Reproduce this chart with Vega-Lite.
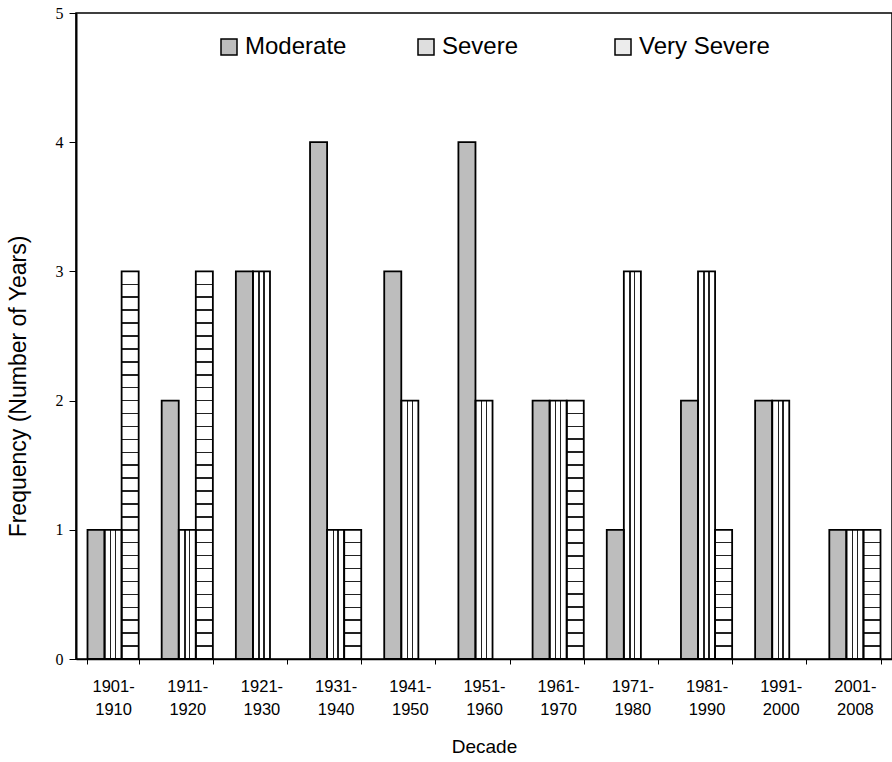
{
  "$schema": "https://vega.github.io/schema/vega-lite/v6.json",
  "width": 816,
  "height": 646,
  "autosize": "none",
  "padding": {"left": 76, "top": 13, "right": 0, "bottom": 103},
  "background": "white",
  "config": {
    "view": {"stroke": "black", "strokeWidth": 1.5},
    "axis": {"domainColor": "black", "tickColor": "black", "labelColor": "black", "titleColor": "black", "grid": false, "titleFontWeight": "normal"}
  },
  "data": {
    "values": [
      {"Decade": "1901-1910", "Category": "Moderate", "Frequency": 1},
      {"Decade": "1901-1910", "Category": "Severe", "Frequency": 1},
      {"Decade": "1901-1910", "Category": "Very Severe", "Frequency": 3},
      {"Decade": "1911-1920", "Category": "Moderate", "Frequency": 2},
      {"Decade": "1911-1920", "Category": "Severe", "Frequency": 1},
      {"Decade": "1911-1920", "Category": "Very Severe", "Frequency": 3},
      {"Decade": "1921-1930", "Category": "Moderate", "Frequency": 3},
      {"Decade": "1921-1930", "Category": "Severe", "Frequency": 3},
      {"Decade": "1921-1930", "Category": "Very Severe", "Frequency": 0},
      {"Decade": "1931-1940", "Category": "Moderate", "Frequency": 4},
      {"Decade": "1931-1940", "Category": "Severe", "Frequency": 1},
      {"Decade": "1931-1940", "Category": "Very Severe", "Frequency": 1},
      {"Decade": "1941-1950", "Category": "Moderate", "Frequency": 3},
      {"Decade": "1941-1950", "Category": "Severe", "Frequency": 2},
      {"Decade": "1941-1950", "Category": "Very Severe", "Frequency": 0},
      {"Decade": "1951-1960", "Category": "Moderate", "Frequency": 4},
      {"Decade": "1951-1960", "Category": "Severe", "Frequency": 2},
      {"Decade": "1951-1960", "Category": "Very Severe", "Frequency": 0},
      {"Decade": "1961-1970", "Category": "Moderate", "Frequency": 2},
      {"Decade": "1961-1970", "Category": "Severe", "Frequency": 2},
      {"Decade": "1961-1970", "Category": "Very Severe", "Frequency": 2},
      {"Decade": "1971-1980", "Category": "Moderate", "Frequency": 1},
      {"Decade": "1971-1980", "Category": "Severe", "Frequency": 3},
      {"Decade": "1971-1980", "Category": "Very Severe", "Frequency": 0},
      {"Decade": "1981-1990", "Category": "Moderate", "Frequency": 2},
      {"Decade": "1981-1990", "Category": "Severe", "Frequency": 3},
      {"Decade": "1981-1990", "Category": "Very Severe", "Frequency": 1},
      {"Decade": "1991-2000", "Category": "Moderate", "Frequency": 2},
      {"Decade": "1991-2000", "Category": "Severe", "Frequency": 2},
      {"Decade": "1991-2000", "Category": "Very Severe", "Frequency": 0},
      {"Decade": "2001-2008", "Category": "Moderate", "Frequency": 1},
      {"Decade": "2001-2008", "Category": "Severe", "Frequency": 1},
      {"Decade": "2001-2008", "Category": "Very Severe", "Frequency": 1}
    ]
  },
  "encoding": {
    "x": {
      "field": "Decade", "type": "nominal", "sort": null,
      "scale": {"paddingInner": 0.31, "paddingOuter": 0.155},
      "axis": {
        "title": "Decade", "labelAngle": 0,
        "labelExpr": "[slice(datum.label, 0, 5), slice(datum.label, 5)]",
        "labelFont": "Liberation Sans", "labelFontSize": 16.5, "labelLineHeight": 23,
        "labelPadding": 14, "tickSize": 5, "tickBand": "extent", "domainWidth": 1.5, "tickWidth": 1,
        "titleFont": "Liberation Sans", "titleFontSize": 19, "titlePadding": 20
      }
    },
    "xOffset": {"field": "Category", "type": "nominal", "scale": {"domain": ["Moderate", "Severe", "Very Severe"]}},
    "y": {
      "field": "Frequency", "type": "quantitative",
      "scale": {"domain": [0, 5]},
      "axis": {
        "title": "Frequency (Number of Years)", "values": [0, 1, 2, 3, 4, 5],
        "labelFont": "Liberation Serif", "labelFontSize": 16, "labelPadding": 6, "tickSize": 7, "domainWidth": 2,
        "titleFont": "Liberation Sans", "titleFontSize": 23, "titleX": -58, "titleY": 373, "titleAlign": "center", "titleBaseline": "middle", "titleAngle": -90
      }
    }
  },
  "layer": [
    {
      "transform": [{"filter": "datum.Category === 'Moderate'"}],
      "mark": {"type": "bar", "fill": "#bdbdbd"}
    },
    {
      "transform": [{"filter": "datum.Category === 'Severe'"}],
      "mark": {"type": "bar", "fill": {"gradient": "linear", "x1": 0, "y1": 0, "x2": 1, "y2": 0, "stops": [
        {"offset": 0, "color": "white"}, {"offset": 0.32, "color": "white"}, {"offset": 0.32, "color": "#222"}, {"offset": 0.4, "color": "#222"}, {"offset": 0.4, "color": "white"},
        {"offset": 0.6, "color": "white"}, {"offset": 0.6, "color": "#222"}, {"offset": 0.68, "color": "#222"}, {"offset": 0.68, "color": "white"}, {"offset": 1, "color": "white"}
      ]}}
    },
    {
      "transform": [{"filter": "datum.Category === 'Very Severe' && datum.Frequency === 1"}],
      "mark": {"type": "bar", "fill": {"gradient": "linear", "x1": 0, "y1": 0, "x2": 0, "y2": 1, "stops": [
        {"offset": 0, "color": "white"},
        {"offset": 0.094, "color": "white"}, {"offset": 0.094, "color": "#222"}, {"offset": 0.106, "color": "#222"}, {"offset": 0.106, "color": "white"},
        {"offset": 0.194, "color": "white"}, {"offset": 0.194, "color": "#222"}, {"offset": 0.206, "color": "#222"}, {"offset": 0.206, "color": "white"},
        {"offset": 0.294, "color": "white"}, {"offset": 0.294, "color": "#222"}, {"offset": 0.306, "color": "#222"}, {"offset": 0.306, "color": "white"},
        {"offset": 0.394, "color": "white"}, {"offset": 0.394, "color": "#222"}, {"offset": 0.406, "color": "#222"}, {"offset": 0.406, "color": "white"},
        {"offset": 0.494, "color": "white"}, {"offset": 0.494, "color": "#222"}, {"offset": 0.506, "color": "#222"}, {"offset": 0.506, "color": "white"},
        {"offset": 0.594, "color": "white"}, {"offset": 0.594, "color": "#222"}, {"offset": 0.606, "color": "#222"}, {"offset": 0.606, "color": "white"},
        {"offset": 0.694, "color": "white"}, {"offset": 0.694, "color": "#222"}, {"offset": 0.706, "color": "#222"}, {"offset": 0.706, "color": "white"},
        {"offset": 0.794, "color": "white"}, {"offset": 0.794, "color": "#222"}, {"offset": 0.806, "color": "#222"}, {"offset": 0.806, "color": "white"},
        {"offset": 0.894, "color": "white"}, {"offset": 0.894, "color": "#222"}, {"offset": 0.906, "color": "#222"}, {"offset": 0.906, "color": "white"},
        {"offset": 1, "color": "white"}
      ]}}
    },
    {
      "transform": [{"filter": "datum.Category === 'Very Severe' && datum.Frequency === 2"}],
      "mark": {"type": "bar", "fill": {"gradient": "linear", "x1": 0, "y1": 0, "x2": 0, "y2": 1, "stops": [
        {"offset": 0, "color": "white"},
        {"offset": 0.0465, "color": "white"}, {"offset": 0.0465, "color": "#222"}, {"offset": 0.0535, "color": "#222"}, {"offset": 0.0535, "color": "white"},
        {"offset": 0.0965, "color": "white"}, {"offset": 0.0965, "color": "#222"}, {"offset": 0.1035, "color": "#222"}, {"offset": 0.1035, "color": "white"},
        {"offset": 0.1465, "color": "white"}, {"offset": 0.1465, "color": "#222"}, {"offset": 0.1535, "color": "#222"}, {"offset": 0.1535, "color": "white"},
        {"offset": 0.1965, "color": "white"}, {"offset": 0.1965, "color": "#222"}, {"offset": 0.2035, "color": "#222"}, {"offset": 0.2035, "color": "white"},
        {"offset": 0.2465, "color": "white"}, {"offset": 0.2465, "color": "#222"}, {"offset": 0.2535, "color": "#222"}, {"offset": 0.2535, "color": "white"},
        {"offset": 0.2965, "color": "white"}, {"offset": 0.2965, "color": "#222"}, {"offset": 0.3035, "color": "#222"}, {"offset": 0.3035, "color": "white"},
        {"offset": 0.3465, "color": "white"}, {"offset": 0.3465, "color": "#222"}, {"offset": 0.3535, "color": "#222"}, {"offset": 0.3535, "color": "white"},
        {"offset": 0.3965, "color": "white"}, {"offset": 0.3965, "color": "#222"}, {"offset": 0.4035, "color": "#222"}, {"offset": 0.4035, "color": "white"},
        {"offset": 0.4465, "color": "white"}, {"offset": 0.4465, "color": "#222"}, {"offset": 0.4535, "color": "#222"}, {"offset": 0.4535, "color": "white"},
        {"offset": 0.4965, "color": "white"}, {"offset": 0.4965, "color": "#222"}, {"offset": 0.5035, "color": "#222"}, {"offset": 0.5035, "color": "white"},
        {"offset": 0.5465, "color": "white"}, {"offset": 0.5465, "color": "#222"}, {"offset": 0.5535, "color": "#222"}, {"offset": 0.5535, "color": "white"},
        {"offset": 0.5965, "color": "white"}, {"offset": 0.5965, "color": "#222"}, {"offset": 0.6035, "color": "#222"}, {"offset": 0.6035, "color": "white"},
        {"offset": 0.6465, "color": "white"}, {"offset": 0.6465, "color": "#222"}, {"offset": 0.6535, "color": "#222"}, {"offset": 0.6535, "color": "white"},
        {"offset": 0.6965, "color": "white"}, {"offset": 0.6965, "color": "#222"}, {"offset": 0.7035, "color": "#222"}, {"offset": 0.7035, "color": "white"},
        {"offset": 0.7465, "color": "white"}, {"offset": 0.7465, "color": "#222"}, {"offset": 0.7535, "color": "#222"}, {"offset": 0.7535, "color": "white"},
        {"offset": 0.7965, "color": "white"}, {"offset": 0.7965, "color": "#222"}, {"offset": 0.8035, "color": "#222"}, {"offset": 0.8035, "color": "white"},
        {"offset": 0.8465, "color": "white"}, {"offset": 0.8465, "color": "#222"}, {"offset": 0.8535, "color": "#222"}, {"offset": 0.8535, "color": "white"},
        {"offset": 0.8965, "color": "white"}, {"offset": 0.8965, "color": "#222"}, {"offset": 0.9035, "color": "#222"}, {"offset": 0.9035, "color": "white"},
        {"offset": 0.9465, "color": "white"}, {"offset": 0.9465, "color": "#222"}, {"offset": 0.9535, "color": "#222"}, {"offset": 0.9535, "color": "white"},
        {"offset": 1, "color": "white"}
      ]}}
    },
    {
      "transform": [{"filter": "datum.Category === 'Very Severe' && datum.Frequency === 3"}],
      "mark": {"type": "bar", "fill": {"gradient": "linear", "x1": 0, "y1": 0, "x2": 0, "y2": 1, "stops": [
        {"offset": 0, "color": "white"},
        {"offset": 0.0313, "color": "white"}, {"offset": 0.0313, "color": "#222"}, {"offset": 0.0353, "color": "#222"}, {"offset": 0.0353, "color": "white"},
        {"offset": 0.0647, "color": "white"}, {"offset": 0.0647, "color": "#222"}, {"offset": 0.0687, "color": "#222"}, {"offset": 0.0687, "color": "white"},
        {"offset": 0.098, "color": "white"}, {"offset": 0.098, "color": "#222"}, {"offset": 0.102, "color": "#222"}, {"offset": 0.102, "color": "white"},
        {"offset": 0.1313, "color": "white"}, {"offset": 0.1313, "color": "#222"}, {"offset": 0.1353, "color": "#222"}, {"offset": 0.1353, "color": "white"},
        {"offset": 0.1647, "color": "white"}, {"offset": 0.1647, "color": "#222"}, {"offset": 0.1687, "color": "#222"}, {"offset": 0.1687, "color": "white"},
        {"offset": 0.198, "color": "white"}, {"offset": 0.198, "color": "#222"}, {"offset": 0.202, "color": "#222"}, {"offset": 0.202, "color": "white"},
        {"offset": 0.2313, "color": "white"}, {"offset": 0.2313, "color": "#222"}, {"offset": 0.2353, "color": "#222"}, {"offset": 0.2353, "color": "white"},
        {"offset": 0.2647, "color": "white"}, {"offset": 0.2647, "color": "#222"}, {"offset": 0.2687, "color": "#222"}, {"offset": 0.2687, "color": "white"},
        {"offset": 0.298, "color": "white"}, {"offset": 0.298, "color": "#222"}, {"offset": 0.302, "color": "#222"}, {"offset": 0.302, "color": "white"},
        {"offset": 0.3313, "color": "white"}, {"offset": 0.3313, "color": "#222"}, {"offset": 0.3353, "color": "#222"}, {"offset": 0.3353, "color": "white"},
        {"offset": 0.3647, "color": "white"}, {"offset": 0.3647, "color": "#222"}, {"offset": 0.3687, "color": "#222"}, {"offset": 0.3687, "color": "white"},
        {"offset": 0.398, "color": "white"}, {"offset": 0.398, "color": "#222"}, {"offset": 0.402, "color": "#222"}, {"offset": 0.402, "color": "white"},
        {"offset": 0.4313, "color": "white"}, {"offset": 0.4313, "color": "#222"}, {"offset": 0.4353, "color": "#222"}, {"offset": 0.4353, "color": "white"},
        {"offset": 0.4647, "color": "white"}, {"offset": 0.4647, "color": "#222"}, {"offset": 0.4687, "color": "#222"}, {"offset": 0.4687, "color": "white"},
        {"offset": 0.498, "color": "white"}, {"offset": 0.498, "color": "#222"}, {"offset": 0.502, "color": "#222"}, {"offset": 0.502, "color": "white"},
        {"offset": 0.5313, "color": "white"}, {"offset": 0.5313, "color": "#222"}, {"offset": 0.5353, "color": "#222"}, {"offset": 0.5353, "color": "white"},
        {"offset": 0.5647, "color": "white"}, {"offset": 0.5647, "color": "#222"}, {"offset": 0.5687, "color": "#222"}, {"offset": 0.5687, "color": "white"},
        {"offset": 0.598, "color": "white"}, {"offset": 0.598, "color": "#222"}, {"offset": 0.602, "color": "#222"}, {"offset": 0.602, "color": "white"},
        {"offset": 0.6313, "color": "white"}, {"offset": 0.6313, "color": "#222"}, {"offset": 0.6353, "color": "#222"}, {"offset": 0.6353, "color": "white"},
        {"offset": 0.6647, "color": "white"}, {"offset": 0.6647, "color": "#222"}, {"offset": 0.6687, "color": "#222"}, {"offset": 0.6687, "color": "white"},
        {"offset": 0.698, "color": "white"}, {"offset": 0.698, "color": "#222"}, {"offset": 0.702, "color": "#222"}, {"offset": 0.702, "color": "white"},
        {"offset": 0.7313, "color": "white"}, {"offset": 0.7313, "color": "#222"}, {"offset": 0.7353, "color": "#222"}, {"offset": 0.7353, "color": "white"},
        {"offset": 0.7647, "color": "white"}, {"offset": 0.7647, "color": "#222"}, {"offset": 0.7687, "color": "#222"}, {"offset": 0.7687, "color": "white"},
        {"offset": 0.798, "color": "white"}, {"offset": 0.798, "color": "#222"}, {"offset": 0.802, "color": "#222"}, {"offset": 0.802, "color": "white"},
        {"offset": 0.8313, "color": "white"}, {"offset": 0.8313, "color": "#222"}, {"offset": 0.8353, "color": "#222"}, {"offset": 0.8353, "color": "white"},
        {"offset": 0.8647, "color": "white"}, {"offset": 0.8647, "color": "#222"}, {"offset": 0.8687, "color": "#222"}, {"offset": 0.8687, "color": "white"},
        {"offset": 0.898, "color": "white"}, {"offset": 0.898, "color": "#222"}, {"offset": 0.902, "color": "#222"}, {"offset": 0.902, "color": "white"},
        {"offset": 0.9313, "color": "white"}, {"offset": 0.9313, "color": "#222"}, {"offset": 0.9353, "color": "#222"}, {"offset": 0.9353, "color": "white"},
        {"offset": 0.9647, "color": "white"}, {"offset": 0.9647, "color": "#222"}, {"offset": 0.9687, "color": "#222"}, {"offset": 0.9687, "color": "white"},
        {"offset": 1, "color": "white"}
      ]}}
    },
    {
      "transform": [{"filter": "datum.Frequency > 0"}],
      "mark": {"type": "bar", "fillOpacity": 0, "stroke": "black", "strokeWidth": 1.8},
      "encoding": {
        "fill": {
          "field": "Category", "type": "nominal",
          "scale": {"domain": ["Moderate", "Severe", "Very Severe"], "range": ["#bdbdbd", "#dedede", "#ececec"]},
          "legend": {
            "title": null, "orient": "none", "legendX": 141, "legendY": 22, "direction": "horizontal", "columns": 3,
            "gridAlign": "all", "columnPadding": 38, "padding": 0, "symbolType": "square", "symbolSize": 256, "symbolStrokeWidth": 1.5,
            "symbolStrokeColor": "black", "symbolOpacity": 1,
            "labelFont": "Liberation Sans", "labelFontSize": 24, "labelOffset": 4, "labelColor": "black"
          }
        }
      }
    }
  ]
}
